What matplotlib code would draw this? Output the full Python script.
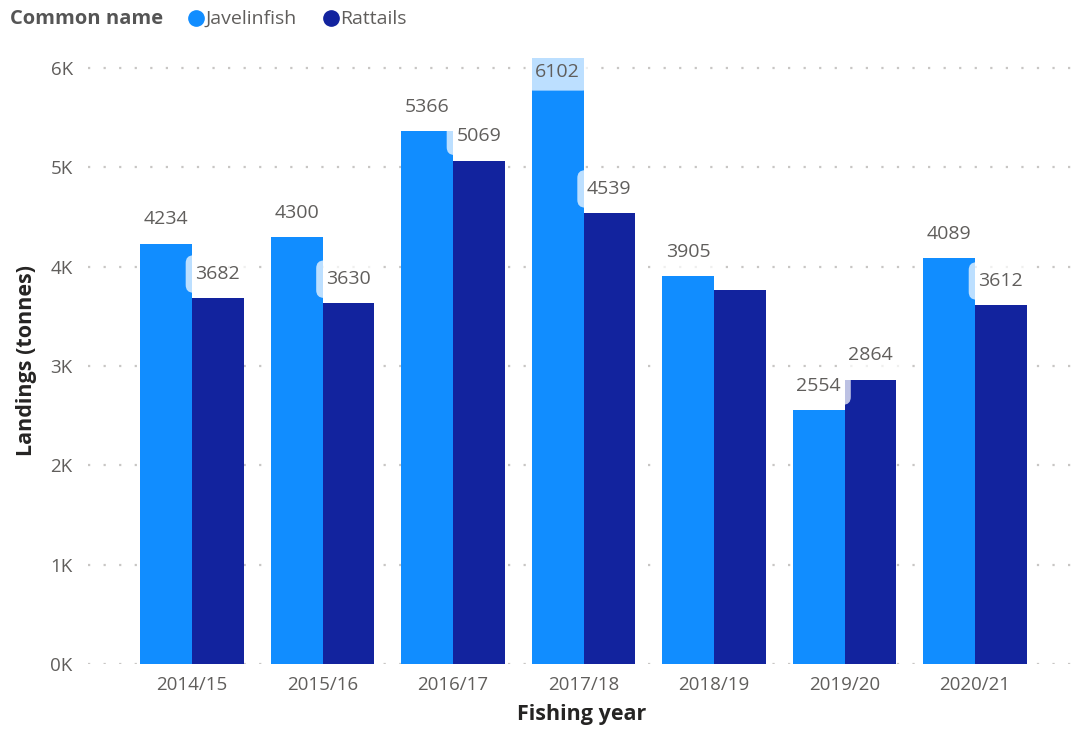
import matplotlib
matplotlib.use("Agg")
import matplotlib.pyplot as plt
from matplotlib.lines import Line2D
from matplotlib.ticker import FuncFormatter, MultipleLocator

# Landings by fishing year (tonnes)
years = ["2014/15", "2015/16", "2016/17", "2017/18", "2018/19", "2019/20", "2020/21"]
javelinfish = [4234, 4300, 5366, 6102, 3905, 2554, 4089]
rattails = [3682, 3630, 5069, 4539, 3770, 2864, 3612]
# data labels hidden where they would collide
rattails_labelled = [True, True, True, True, False, True, True]

series_names = ["Javelinfish", "Rattails"]
colors = ["#118DFF", "#12239E"]

plt.rcParams["font.family"] = ["Open Sans", "DejaVu Sans"]
TXT = "#605E5C"
DARK = "#252423"

fig = plt.figure(figsize=(10.78, 7.33), dpi=100)
ax = fig.add_axes([88 / 1078, 1 - 664 / 733, (1075 - 88) / 1078, (664 - 58) / 733])

x = list(range(len(years)))
w = 0.395
ymax = max(max(javelinfish), max(rattails))

ax.bar([i - w / 2 for i in x], javelinfish, width=w, color=colors[0], zorder=2)
ax.bar([i + w / 2 for i in x], rattails, width=w, color=colors[1], zorder=2)


def label(xc, val):
    inside = val + 0.04 * ymax > ymax
    off = -10 if inside else 17.5
    ax.annotate(
        f"{val}", (xc, val), xytext=(0, off), textcoords="offset points",
        ha="center", va="center", fontsize=14, color=TXT, zorder=5,
        bbox=dict(boxstyle="round,pad=0.5,rounding_size=0.4", fc="white",
                  ec="none", alpha=0.72),
    )


for i in x:
    label(i - w / 2, javelinfish[i])
    if rattails_labelled[i]:
        label(i + w / 2, rattails[i])

ax.set_xlim(-0.797, 6.766)
ax.set_ylim(0, ymax)
ax.yaxis.set_major_locator(MultipleLocator(1000))
ax.yaxis.set_major_formatter(FuncFormatter(lambda v, p: f"{int(v / 1000)}K"))
ax.set_xticks(x)
ax.set_xticklabels(years)

ax.grid(axis="y", color="#C8C6C4", linestyle=(0, (1, 6)), linewidth=1.6, zorder=0)
ax.set_axisbelow(True)
for s in ax.spines.values():
    s.set_visible(False)
ax.tick_params(axis="both", length=0, labelsize=13.5, colors=TXT)
ax.tick_params(axis="y", pad=11)
ax.tick_params(axis="x", pad=9)

ax.set_xlabel("Fishing year", fontsize=15.5, fontweight="bold", color=DARK, labelpad=7)
ax.set_ylabel("Landings (tonnes)", fontsize=15.5, fontweight="bold", color=DARK, labelpad=10)

# legend row
fig.text(10 / 1078, 1 - 19 / 733, "Common name", fontsize=14.5, fontweight="bold",
         color="#555555", va="center", ha="left")
lx = [196, 331]
for k, name in enumerate(series_names):
    fig.add_artist(Line2D([lx[k] / 1078], [1 - 18 / 733], marker="o", markersize=11,
                          color=colors[k], transform=fig.transFigure, linestyle="none"))
    fig.text((lx[k] + 9) / 1078, 1 - 19 / 733, name, fontsize=14, color=TXT,
             va="center", ha="left")

fig.savefig("out.png", dpi=100)
